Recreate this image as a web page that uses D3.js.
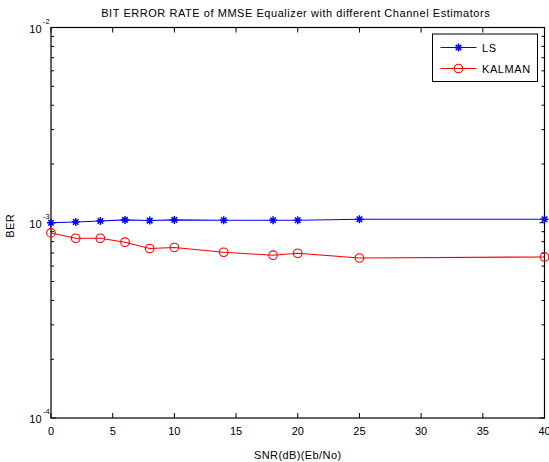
<!DOCTYPE html>
<html>
<head>
<meta charset="utf-8">
<script src="https://cdn.jsdelivr.net/npm/d3@7"></script>
<style>
  html, body { margin: 0; padding: 0; background: #fff; }
  svg { display: block; font-family: "Liberation Sans", Arial, sans-serif; }
</style>
</head>
<body>
<svg id="chart" width="549" height="462"></svg>
<script>
const snr = [0, 2, 4, 6, 8, 10, 14, 18, 20, 25, 40];
const berLS = [1.0e-3, 1.009e-3, 1.021e-3, 1.034e-3, 1.026e-3, 1.034e-3, 1.030e-3, 1.030e-3, 1.030e-3, 1.042e-3, 1.042e-3];
const berKalman = [0.887e-3, 0.833e-3, 0.833e-3, 0.795e-3, 0.738e-3, 0.747e-3, 0.706e-3, 0.682e-3, 0.698e-3, 0.660e-3, 0.668e-3];
const xTicks = [0, 5, 10, 15, 20, 25, 30, 35, 40];
const yMajorExps = [-4, -3, -2];
const seriesNames = ["LS", "KALMAN"];
const seriesColors = ["#0000ff", "#ff0000"];
const titleText = "BIT ERROR RATE of MMSE Equalizer with different Channel Estimators";
const xLabel = "SNR(dB)(Eb/No)";
const yLabel = "BER";

const svg = d3.select("#chart");
const L = 51, R = 544.5, T = 27.5, B = 418;
const x = d3.scaleLinear().domain([0, 40]).range([L, R]);
const y = d3.scaleLog().domain([1e-4, 1e-2]).range([B, T]);

const minor = [];
for (let e = -4; e < -2; e++) for (let k = 2; k <= 9; k++) minor.push(k * Math.pow(10, e));

const g = svg.append("g");
const majLen = 5, minLen = 3;
xTicks.forEach(v => {
  g.append("line").attr("x1", x(v)).attr("x2", x(v)).attr("y1", B).attr("y2", B - majLen).attr("stroke", "#000");
  g.append("line").attr("x1", x(v)).attr("x2", x(v)).attr("y1", T).attr("y2", T + majLen).attr("stroke", "#000");
  g.append("text").attr("x", x(v)).attr("y", B + 17).attr("text-anchor", "middle").attr("font-size", 11).text(v);
});
yMajorExps.forEach(e => {
  const v = Math.pow(10, e);
  g.append("line").attr("x1", L).attr("x2", L + majLen).attr("y1", y(v)).attr("y2", y(v)).attr("stroke", "#000");
  g.append("line").attr("x1", R).attr("x2", R - majLen).attr("y1", y(v)).attr("y2", y(v)).attr("stroke", "#000");
  g.append("text").attr("x", 42).attr("y", y(v) + 5).attr("text-anchor", "end").attr("font-size", 11).attr("letter-spacing", 0.3).text("10");
  g.append("text").attr("x", 43).attr("y", y(v) - 4).attr("font-size", 7.5).text(String(e));
});
minor.forEach(v => {
  g.append("line").attr("x1", L).attr("x2", L + minLen).attr("y1", y(v)).attr("y2", y(v)).attr("stroke", "#000");
  g.append("line").attr("x1", R).attr("x2", R - minLen).attr("y1", y(v)).attr("y2", y(v)).attr("stroke", "#000");
});
g.append("rect").attr("x", L).attr("y", T).attr("width", R - L).attr("height", B - T)
  .attr("fill", "none").attr("stroke", "#000").attr("stroke-width", 1.2);

const line = d3.line().x(d => x(d[0])).y(d => y(d[1]));
function starPath(cx, cy, s) {
  const d = s * 0.7;
  return `M${cx - s},${cy}L${cx + s},${cy}M${cx},${cy - s}L${cx},${cy + s}` +
         `M${cx - d},${cy - d}L${cx + d},${cy + d}M${cx - d},${cy + d}L${cx + d},${cy - d}`;
}
const dataLS = snr.map((s, i) => [s, berLS[i]]);
const dataK = snr.map((s, i) => [s, berKalman[i]]);

g.append("path").datum(dataLS).attr("d", line).attr("fill", "none").attr("stroke", seriesColors[0]).attr("stroke-width", 1.1);
g.selectAll(".ls").data(dataLS).enter().append("path")
  .attr("d", d => starPath(x(d[0]), y(d[1]), 4)).attr("stroke", seriesColors[0]).attr("stroke-width", 1.5).attr("fill", "none");

g.append("path").datum(dataK).attr("d", line).attr("fill", "none").attr("stroke", seriesColors[1]).attr("stroke-width", 1.1);
g.selectAll(".kc").data(dataK).enter().append("circle")
  .attr("cx", d => x(d[0])).attr("cy", d => y(d[1])).attr("r", 4.3)
  .attr("fill", "none").attr("stroke", seriesColors[1]).attr("stroke-width", 1.1);

const lg = svg.append("g");
lg.append("rect").attr("x", 432.5).attr("y", 34).attr("width", 105).attr("height", 47.5)
  .attr("fill", "#fff").attr("stroke", "#000").attr("stroke-width", 1);
const ly = [47.5, 68.5];
seriesNames.forEach((n, i) => {
  lg.append("line").attr("x1", 440.5).attr("x2", 476.5).attr("y1", ly[i]).attr("y2", ly[i]).attr("stroke", seriesColors[i]).attr("stroke-width", 1.1);
  if (i === 0) {
    lg.append("path").attr("d", starPath(458.5, ly[i], 4)).attr("stroke", seriesColors[i]).attr("stroke-width", 1.5);
  } else {
    lg.append("circle").attr("cx", 458.5).attr("cy", ly[i]).attr("r", 4.3).attr("fill", "none").attr("stroke", seriesColors[i]).attr("stroke-width", 1.1);
  }
  lg.append("text").attr("x", 482).attr("y", ly[i] + 4).attr("font-size", 11).attr("letter-spacing", 0.6).text(n);
});

svg.append("text").attr("x", (L + R) / 2 - 2).attr("y", 16.5).attr("text-anchor", "middle").attr("font-size", 11).attr("letter-spacing", 0.55).text(titleText);
svg.append("text").attr("x", (L + R) / 2).attr("y", 459).attr("text-anchor", "middle").attr("font-size", 11).attr("letter-spacing", 0.4).text(xLabel);
svg.append("text").attr("transform", `translate(13.5,${(T + B) / 2 + 3}) rotate(-90)`).attr("text-anchor", "middle").attr("font-size", 11).attr("letter-spacing", 0.5).text(yLabel);
</script>
</body>
</html>
